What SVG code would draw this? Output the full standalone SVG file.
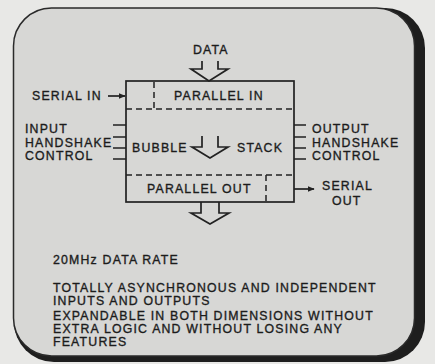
<svg xmlns="http://www.w3.org/2000/svg" width="435" height="364" viewBox="0 0 435 364">
<style>
text{font-family:"Liberation Sans",Arial,sans-serif;font-size:12.3px;letter-spacing:1.2px;fill:#1c1c1c;stroke:#1c1c1c;stroke-width:0.35}
.ln{stroke:#222;stroke-width:1.7;fill:none}
.ds{stroke:#222;stroke-width:1.5;fill:none;stroke-dasharray:6,4}
</style>
<defs>
<marker id="ah" viewBox="0 0 10 10" refX="9" refY="5" markerWidth="7" markerHeight="7" markerUnits="userSpaceOnUse" orient="auto"><path d="M0,1 L10,5 L0,9 Z" fill="#222"/></marker>
</defs>
<rect width="435" height="364" fill="#e8e8e6"/>
<g id="panel">
<rect x="14" y="8" width="411" height="354" rx="40" fill="#1e1e1e"/>
<rect x="13.5" y="8" width="401" height="348" rx="38" fill="#d7d7d5" stroke="#2a2a2a" stroke-width="1.5"/>
</g>
<g id="stack">
<rect x="126" y="81" width="168" height="121" class="ln"/>
<line x1="126" y1="109" x2="294" y2="109" class="ds"/>
<line x1="154" y1="82" x2="154" y2="109" class="ds"/>
<line x1="126" y1="175" x2="294" y2="175" class="ds"/>
<line x1="266" y1="175" x2="266" y2="202" class="ds"/>
<text x="174" y="100">PARALLEL IN</text>
<text x="147" y="193">PARALLEL OUT</text>
<text x="132" y="152">BUBBLE</text>
<text x="237" y="152">STACK</text>
<path d="M202,136 V147 H192 L210,158 L228,147 H218 V136" class="ln"/>
</g>
<g id="data">
<text x="193" y="54">DATA</text>
</g>
<g id="serial-in"><text x="32" y="100">SERIAL IN</text></g>
<g id="input-hs">
<text x="25" y="133">INPUT</text>
<text x="25" y="147">HANDSHAKE</text>
<text x="25" y="160">CONTROL</text>
</g>
<g id="output-hs">
<text x="312" y="133">OUTPUT</text>
<text x="312" y="147">HANDSHAKE</text>
<text x="312" y="160">CONTROL</text>
</g>
<g id="serial-out">
<text x="322" y="190">SERIAL</text>
<text x="332" y="205">OUT</text>
</g>
<g id="features">
<text x="53" y="264">20MHz DATA RATE</text>
<text x="53" y="292">TOTALLY ASYNCHRONOUS AND INDEPENDENT</text>
<text x="53" y="305">INPUTS AND OUTPUTS</text>
<text x="53" y="320">EXPANDABLE IN BOTH DIMENSIONS WITHOUT</text>
<text x="53" y="333">EXTRA LOGIC AND WITHOUT LOSING ANY</text>
<text x="53" y="346">FEATURES</text>
</g>
<g id="connectors">
<path d="M202,61 V69 H191 L209,81 L228,69 H218 V61" class="ln"/>
<line x1="108" y1="96" x2="125" y2="96" class="ln" marker-end="url(#ah)"/>
<path d="M113,125 H126 M113,137 H126 M113,148 H126 M113,159 H126" class="ln"/>
<path d="M294,125 H306 M294,137 H306 M294,148 H306 M294,159 H306" class="ln"/>
<line x1="294" y1="189" x2="314" y2="189" class="ln" marker-end="url(#ah)"/>
<path d="M201,202 V213 H191 L210,224 L229,213 H219 V202" class="ln"/>
</g>
</svg>
